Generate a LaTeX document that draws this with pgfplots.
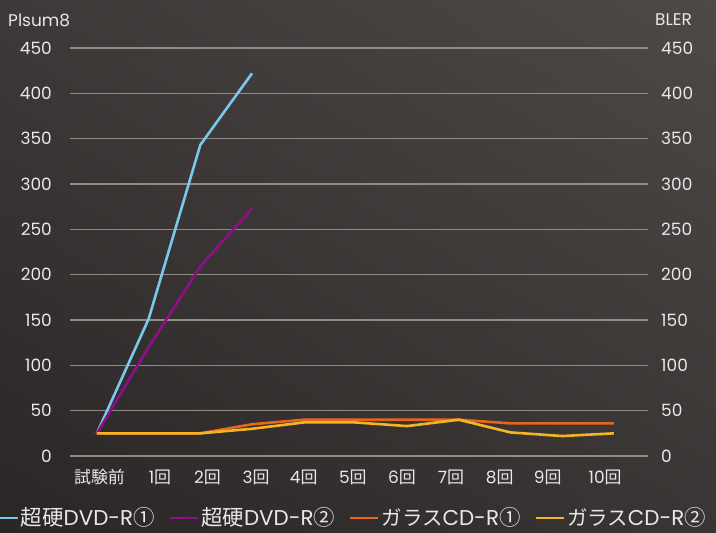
\documentclass[border=0pt]{standalone}
\usepackage{fontspec}
\setmainfont{Poppins}
\newfontfamily\jp{Noto Sans CJK JP}
\usepackage{pgfplots}
\pgfplotsset{compat=1.18}
\usetikzlibrary{shadings}
\definecolor{bgUL}{HTML}{3D3938}
\definecolor{bgUR}{HTML}{4D4947}
\definecolor{bgLL}{HTML}{2A2625}
\definecolor{bgLR}{HTML}{393534}
\definecolor{cA}{HTML}{7CC8EC}
\definecolor{cB}{HTML}{8E0F8A}
\definecolor{cC}{HTML}{E8661C}
\definecolor{cD}{HTML}{F5B523}
\definecolor{gridc}{HTML}{8E8B89}
\definecolor{txt}{HTML}{E8E8E8}
\newcommand{\gl}{{\jp\fontsize{20.5}{22}\selectfont ガラス}}
\begin{document}
\begin{tikzpicture}[x=1bp,y=1bp]
\useasboundingbox (0,0) rectangle (716,533);
\shade[upper left=bgUL, upper right=bgUR, lower left=bgLL, lower right=bgLR] (0,0) rectangle (716,533);
\node[anchor=west, inner sep=0pt, text=txt, font=\fontsize{17}{17}\selectfont] at (8,513) {Plsum8};
\node[anchor=west, inner sep=0pt, text=txt, font=\fontsize{17}{17}\selectfont] at (655,513) {BLER};
\begin{axis}[
  at={(70bp,77bp)}, anchor=south west, scale only axis,
  width=578bp, height=408bp,
  xmin=-0.52, xmax=10.66, ymin=0, ymax=450,
  axis line style={draw=none},
  major tick length=0pt,
  ytick={0,50,...,450},
  ymajorgrids, grid style={draw=gridc, line width=1.6bp},
  xtick=\empty,
  tick label style={text=txt, font=\fontsize{17}{17}\selectfont},
  /pgf/number format/assume math mode=true,
  yticklabel style={anchor=east, inner sep=0pt, xshift=-18bp},
  legend columns=4,
  legend style={draw=none, fill=none, text=txt, font=\fontsize{21.5}{22}\selectfont,
    at={(-0.147,-0.152)}, anchor=west, inner ysep=0pt,
    nodes={inner ysep=0.5bp, text depth=0pt, text height=15bp},
    /tikz/every even column/.append style={column sep=12bp}},
  legend image code/.code={\draw[#1, line width=2.6bp] (0bp,0bp) -- (28bp,0bp);},
]
\addplot[cA, line width=2.6bp] coordinates {(0,25)(1,151)(2,343)(3,422)};
\addlegendentry{{\jp 超硬}DVD-R{\jp ①}}
\addplot[cB, line width=2.6bp] coordinates {(0,25)(1,120)(2,209)(3,273)};
\addlegendentry{{\jp 超硬}DVD-R{\jp ②}}
\addplot[cC, line width=2.6bp] coordinates {(0,25)(1,25)(2,25)(3,35)(4,40)(5,40)(6,40)(7,40)(8,36)(9,36)(10,36)};
\addlegendentry{\gl CD-R{\jp ①}}
\addplot[cD, line width=2.6bp] coordinates {(0,25)(1,25)(2,25)(3,30)(4,37)(5,37)(6,33)(7,40)(8,26)(9,22)(10,25)};
\addlegendentry{\gl CD-R{\jp ②}}
\end{axis}
\begin{axis}[
  at={(70bp,77bp)}, anchor=south west, scale only axis,
  width=578bp, height=408bp,
  xmin=-0.52, xmax=10.66, ymin=0, ymax=450,
  axis line style={draw=none},
  major tick length=0pt,
  ytick={0,50,...,450},
  yticklabel pos=right,
  xtick={0.05,1.22,2.14,3.08,4.00,4.95,5.90,6.85,7.79,8.72,9.83},
  xticklabels={{\jp 試験前},1{\jp 回},2{\jp 回},3{\jp 回},4{\jp 回},5{\jp 回},6{\jp 回},7{\jp 回},8{\jp 回},9{\jp 回},10{\jp 回}},
  tick label style={text=txt, font=\fontsize{17}{17}\selectfont},
  /pgf/number format/assume math mode=true,
  yticklabel style={anchor=west, inner sep=0pt, xshift=13bp},
  xticklabel style={anchor=base, inner sep=0pt, yshift=-28bp},
]
\addplot[draw=none] coordinates {(0,0)(1,0)};
\end{axis}
\end{tikzpicture}
\end{document}
